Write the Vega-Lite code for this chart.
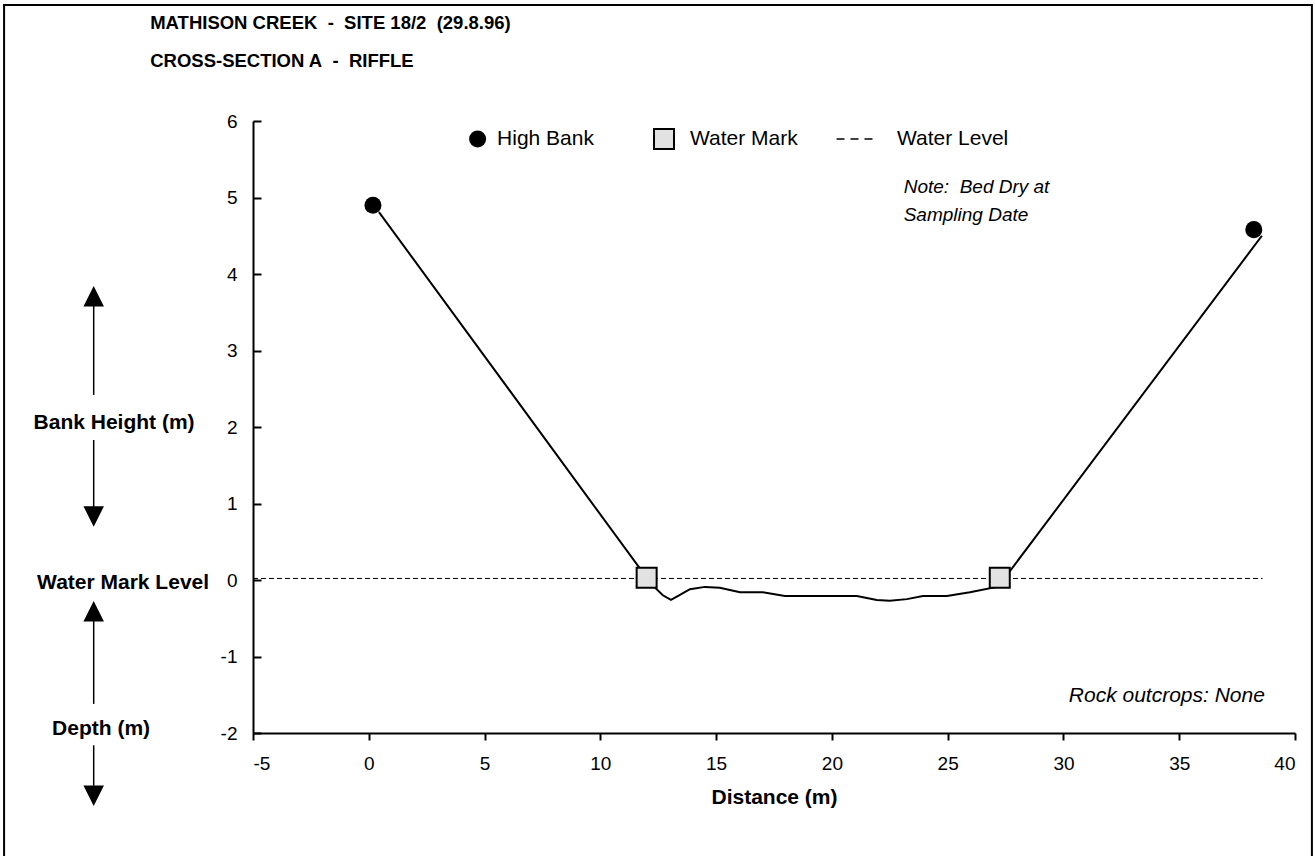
{
  "$schema": "https://vega.github.io/schema/vega-lite/v6.json",
  "autosize": {"type": "none"},
  "width": 1042,
  "height": 612,
  "padding": {"left": 253, "top": 121, "right": 20, "bottom": 123},
  "background": "white",
  "config": {
    "view": {"stroke": null},
    "axis": {
      "grid": false,
      "domainColor": "black",
      "domainWidth": 2,
      "tickColor": "black",
      "tickWidth": 2,
      "labelFont": "Liberation Sans",
      "labelFontSize": 19,
      "labelColor": "black",
      "titleFont": "Liberation Sans",
      "titleColor": "black"
    },
    "text": {"font": "Liberation Sans", "color": "black"}
  },
  "datasets": {
    "profile": [
      {"x": 0.44, "y": 4.81},
      {"x": 12.0, "y": 0.03},
      {"x": 12.36, "y": -0.10},
      {"x": 12.7, "y": -0.20},
      {"x": 13.05, "y": -0.26},
      {"x": 13.4, "y": -0.2},
      {"x": 13.87, "y": -0.12},
      {"x": 14.52, "y": -0.09},
      {"x": 15.16, "y": -0.10},
      {"x": 16.03, "y": -0.16},
      {"x": 17.02, "y": -0.16},
      {"x": 17.97, "y": -0.21},
      {"x": 21.08, "y": -0.21},
      {"x": 21.94, "y": -0.26},
      {"x": 22.5, "y": -0.27},
      {"x": 23.24, "y": -0.25},
      {"x": 23.93, "y": -0.21},
      {"x": 24.97, "y": -0.21},
      {"x": 25.96, "y": -0.16},
      {"x": 27.12, "y": -0.09},
      {"x": 27.4, "y": 0.0},
      {"x": 38.57, "y": 4.5}
    ],
    "highbank": [
      {"x": 0.18, "y": 4.9},
      {"x": 38.22, "y": 4.58},
      {"x": 4.7, "y": 5.765}
    ],
    "watermark": [
      {"x": 12.0, "y": 0.03},
      {"x": 27.25, "y": 0.03},
      {"x": 12.75, "y": 5.765}
    ],
    "waterlevel": [
      {"x": -5, "x2": 38.6, "y": 0.02}
    ],
    "legenddash": [
      {"x": 20.2, "x2": 21.8, "y": 5.765}
    ],
    "legendtext": [
      {"x": 5.54, "y": 5.765, "label": "High Bank"},
      {"x": 13.87, "y": 5.765, "label": "Water Mark"},
      {"x": 22.81, "y": 5.765, "label": "Water Level"}
    ],
    "notes": [
      {"x": 23.1, "y": 5.14, "label": "Note:\u00a0\u00a0Bed Dry at"},
      {"x": 23.1, "y": 4.77, "label": "Sampling Date"}
    ],
    "rock": [
      {"x": 38.7, "y": -1.52, "label": "Rock outcrops: None"}
    ],
    "titles": [
      {"x": -9.44, "y": 7.2, "label": "MATHISON CREEK\u00a0\u00a0-\u00a0\u00a0SITE 18/2\u00a0\u00a0(29.8.96)"},
      {"x": -9.44, "y": 6.71, "label": "CROSS-SECTION A\u00a0\u00a0-\u00a0\u00a0RIFFLE"}
    ],
    "sidelabels": [
      {"x": -11.0, "y": 2.05, "label": "Bank Height (m)"},
      {"x": -10.61, "y": -0.04, "label": "Water Mark Level"},
      {"x": -11.56, "y": -1.95, "label": "Depth (m)"}
    ],
    "shafts": [
      {"x": -11.88, "y": 3.6, "y2": 2.42},
      {"x": -11.88, "y": 1.83, "y2": 0.95},
      {"x": -11.88, "y": -0.52, "y2": -1.62},
      {"x": -11.88, "y": -2.16, "y2": -2.69}
    ],
    "headsup": [
      {"x": -11.88, "y": 3.71},
      {"x": -11.88, "y": -0.41}
    ],
    "headsdown": [
      {"x": -11.88, "y": 0.83},
      {"x": -11.88, "y": -2.82}
    ],
    "frame": [
      {"x": -15.75, "x2": 40.73, "y": 7.516, "y2": -3.8}
    ]
  },
  "layer": [
    {
      "data": {"name": "profile"},
      "mark": {"type": "line", "color": "black", "strokeWidth": 2, "interpolate": "linear"},
      "encoding": {
        "x": {
          "field": "x", "type": "quantitative",
          "scale": {"domain": [-5, 40], "nice": false, "zero": false},
          "axis": {
            "values": [-5, 0, 5, 10, 15, 20, 25, 30, 35, 40],
            "labelExpr": "'' + datum.value",
            "tickSize": 7,
            "labelPadding": 14,
            "title": "Distance (m)",
            "titleFontSize": 21,
            "titleFontWeight": "bold",
            "titlePadding": 13
          }
        },
        "y": {
          "field": "y", "type": "quantitative",
          "scale": {"domain": [-2, 6], "nice": false, "zero": false},
          "axis": {
            "values": [-2, -1.5, -1, -0.5, 0, 0.5, 1, 1.5, 2, 2.5, 3, 3.5, 4, 4.5, 5, 5.5, 6],
            "labelExpr": "datum.value == floor(datum.value) ? '' + datum.value : ''",
            "tickSize": -8,
            "labelPadding": 24,
            "title": null
          }
        }
      }
    },
    {
      "data": {"name": "waterlevel"},
      "mark": {"type": "rule", "color": "black", "strokeWidth": 1, "strokeDash": [5, 3]},
      "encoding": {
        "x": {"field": "x", "type": "quantitative"},
        "x2": {"field": "x2"},
        "y": {"field": "y", "type": "quantitative"}
      }
    },
    {
      "data": {"name": "highbank"},
      "mark": {"type": "point", "shape": "circle", "filled": true, "color": "black", "size": 290, "opacity": 1},
      "encoding": {
        "x": {"field": "x", "type": "quantitative"},
        "y": {"field": "y", "type": "quantitative"}
      }
    },
    {
      "data": {"name": "watermark"},
      "mark": {"type": "point", "shape": "square", "fill": "#e2e2e2", "stroke": "black", "strokeWidth": 2, "size": 400, "opacity": 1, "fillOpacity": 1},
      "encoding": {
        "x": {"field": "x", "type": "quantitative"},
        "y": {"field": "y", "type": "quantitative"}
      }
    },
    {
      "data": {"name": "legenddash"},
      "mark": {"type": "rule", "color": "black", "strokeWidth": 1.5, "strokeDash": [8, 6], "clip": false},
      "encoding": {
        "x": {"field": "x", "type": "quantitative"},
        "x2": {"field": "x2"},
        "y": {"field": "y", "type": "quantitative"}
      }
    },
    {
      "data": {"name": "legendtext"},
      "mark": {"type": "text", "align": "left", "baseline": "middle", "fontSize": 21},
      "encoding": {
        "x": {"field": "x", "type": "quantitative"},
        "y": {"field": "y", "type": "quantitative"},
        "text": {"field": "label"}
      }
    },
    {
      "data": {"name": "notes"},
      "mark": {"type": "text", "align": "left", "baseline": "middle", "fontSize": 19, "fontStyle": "italic"},
      "encoding": {
        "x": {"field": "x", "type": "quantitative"},
        "y": {"field": "y", "type": "quantitative"},
        "text": {"field": "label"}
      }
    },
    {
      "data": {"name": "rock"},
      "mark": {"type": "text", "align": "right", "baseline": "middle", "fontSize": 21, "fontStyle": "italic"},
      "encoding": {
        "x": {"field": "x", "type": "quantitative"},
        "y": {"field": "y", "type": "quantitative"},
        "text": {"field": "label"}
      }
    },
    {
      "data": {"name": "titles"},
      "mark": {"type": "text", "align": "left", "baseline": "alphabetic", "fontSize": 18.5, "fontWeight": "bold", "clip": false},
      "encoding": {
        "x": {"field": "x", "type": "quantitative"},
        "y": {"field": "y", "type": "quantitative"},
        "text": {"field": "label"}
      }
    },
    {
      "data": {"name": "sidelabels"},
      "mark": {"type": "text", "align": "center", "baseline": "middle", "fontSize": 21, "fontWeight": "bold", "clip": false},
      "encoding": {
        "x": {"field": "x", "type": "quantitative"},
        "y": {"field": "y", "type": "quantitative"},
        "text": {"field": "label"}
      }
    },
    {
      "data": {"name": "shafts"},
      "mark": {"type": "rule", "color": "black", "strokeWidth": 1.5, "clip": false},
      "encoding": {
        "x": {"field": "x", "type": "quantitative"},
        "y": {"field": "y", "type": "quantitative"},
        "y2": {"field": "y2"}
      }
    },
    {
      "data": {"name": "headsup"},
      "mark": {"type": "point", "shape": "M-1,1L1,1L0,-1Z", "filled": true, "color": "black", "size": 420, "opacity": 1, "clip": false},
      "encoding": {
        "x": {"field": "x", "type": "quantitative"},
        "y": {"field": "y", "type": "quantitative"}
      }
    },
    {
      "data": {"name": "headsdown"},
      "mark": {"type": "point", "shape": "M-1,-1L1,-1L0,1Z", "filled": true, "color": "black", "size": 420, "opacity": 1, "clip": false},
      "encoding": {
        "x": {"field": "x", "type": "quantitative"},
        "y": {"field": "y", "type": "quantitative"}
      }
    },
    {
      "data": {"name": "frame"},
      "mark": {"type": "rect", "fill": null, "stroke": "black", "strokeWidth": 2, "clip": false},
      "encoding": {
        "x": {"field": "x", "type": "quantitative"},
        "x2": {"field": "x2"},
        "y": {"field": "y", "type": "quantitative"},
        "y2": {"field": "y2"}
      }
    }
  ]
}
